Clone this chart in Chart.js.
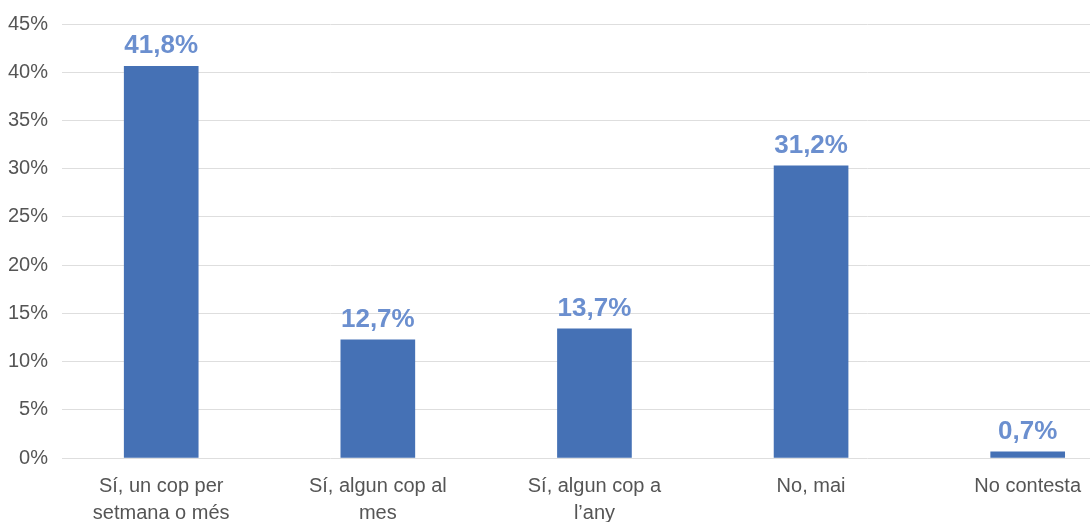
<!DOCTYPE html>
<html>
<head>
<meta charset="utf-8">
<script src="https://cdn.jsdelivr.net/npm/chart.js@4"></script>
<style>
    html, body { margin: 0; padding: 0; background: #fff; overflow: hidden; }
    #wrap { width: 1136px; height: 522px; }
</style>
</head>
<body>
<div id="wrap"><canvas id="chart"></canvas></div>
<script>
// 카테고리 및 값
const categories = [
    ['Sí, un cop per', 'setmana o més'],
    ['Sí, algun cop al', 'mes'],
    ['Sí, algun cop a', 'l\u2019any'],
    ['No, mai'],
    ['No contesta']
];
const barValues = [40.6, 12.25, 13.4, 30.3, 0.65];
const valueLabels = ['41,8%', '12,7%', '13,7%', '31,2%', '0,7%'];
const yTicks = [0, 5, 10, 15, 20, 25, 30, 35, 40, 45];

// 막대 위 값 표시
const valueLabelPlugin = {
    id: 'valueLabels',
    afterDatasetsDraw(chart) {
        const ctx = chart.ctx;
        const meta = chart.getDatasetMeta(0);
        ctx.save();
        ctx.font = 'bold 26px "Liberation Sans", Arial, sans-serif';
        ctx.fillStyle = '#6b8fcf';
        ctx.textAlign = 'center';
        ctx.textBaseline = 'alphabetic';
        meta.data.forEach((bar, i) => {
            ctx.fillText(valueLabels[i], bar.x, bar.y - 13);
        });
        ctx.restore();
    }
};

new Chart(document.getElementById('chart'), {
    type: 'bar',
    data: {
        datasets: [{
            data: barValues.map((v, i) => ({ x: i, y: v })),
            backgroundColor: '#4571b5',
            barThickness: 74
        }]
    },
    options: {
        responsive: true,
        maintainAspectRatio: false,
        animation: false,
        layout: { padding: { top: 24, left: 0, right: 0, bottom: 0 } },
        plugins: {
            legend: { display: false },
            tooltip: { enabled: false }
        },
        scales: {
            x: {
                type: 'linear',
                offset: false,
                min: -0.458,
                max: 4.5,
                grid: { display: false },
                border: { display: false },
                afterBuildTicks: scale => {
                    scale.ticks = categories.map((c, i) => ({ value: i }));
                },
                afterFit: scale => { scale.height = 64; },
                ticks: {
                    autoSkip: false,
                    maxRotation: 0,
                    padding: 7,
                    color: '#555555',
                    font: { family: '"Liberation Sans", Arial, sans-serif', size: 20, lineHeight: 1.35 },
                    callback: value => categories[value]
                }
            },
            y: {
                min: 0,
                max: 45,
                afterBuildTicks: scale => {
                    scale.ticks = yTicks.map(v => ({ value: v }));
                },
                afterFit: scale => { scale.width = 62; },
                grid: { color: '#dedede', lineWidth: 1, drawTicks: false },
                border: { display: false },
                ticks: {
                    padding: 14,
                    color: '#555555',
                    font: { family: '"Liberation Sans", Arial, sans-serif', size: 20, lineHeight: 1 },
                    callback: v => v + '%'
                }
            }
        }
    },
    plugins: [valueLabelPlugin]
});
</script>
</body>
</html>
